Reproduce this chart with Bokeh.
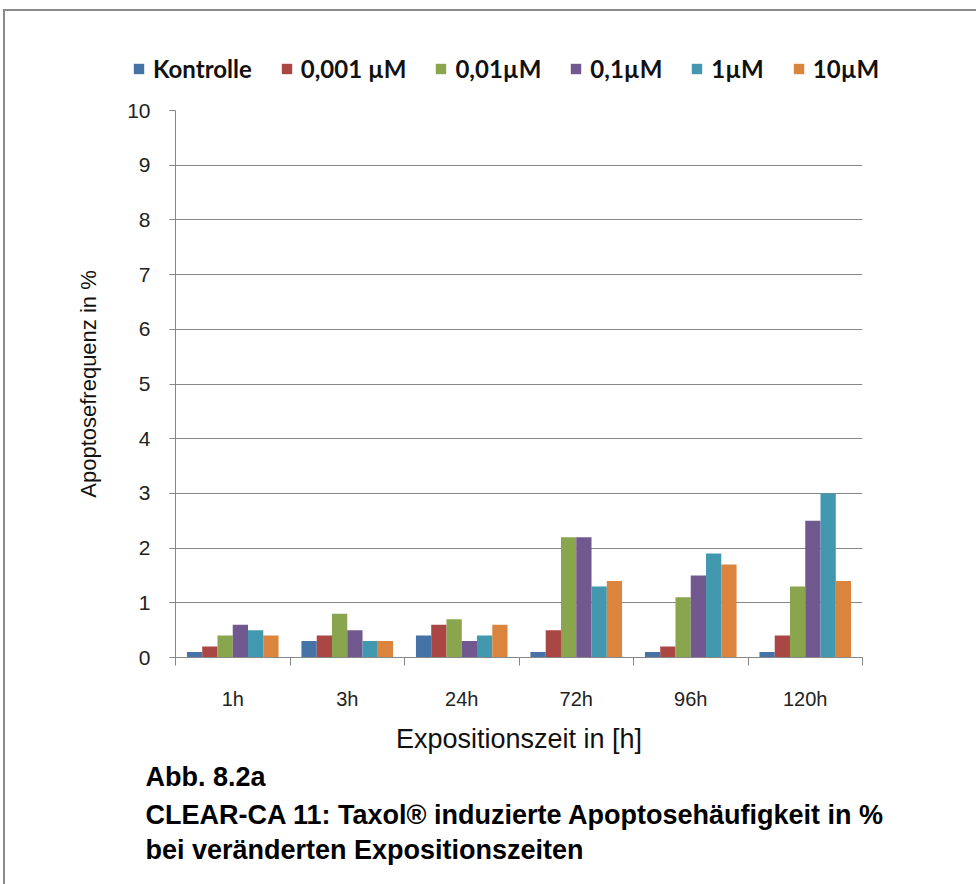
import numpy as np
from bokeh.plotting import figure
from bokeh.layouts import column
from bokeh.models import (ColumnDataSource, FixedTicker, Legend, LegendItem, Title, Range1d)
from bokeh.transform import dodge
from bokeh.embed import file_html
from bokeh.resources import INLINE

categories = ["1h", "3h", "24h", "72h", "96h", "120h"]
series_names = ["Kontrolle", "0,001 µM", "0,01µM", "0,1µM", "1µM", "10µM"]
kontrolle = [0.1, 0.3, 0.4, 0.1, 0.1, 0.1]
c_0001 = [0.2, 0.4, 0.6, 0.5, 0.2, 0.4]
c_001 = [0.4, 0.8, 0.7, 2.2, 1.1, 1.3]
c_01 = [0.6, 0.5, 0.3, 2.2, 1.5, 2.5]
c_1 = [0.5, 0.3, 0.4, 1.3, 1.9, 3.0]
c_10 = [0.4, 0.3, 0.6, 1.4, 1.7, 1.4]
y_ticks = [0, 1, 2, 3, 4, 5, 6, 7, 8, 9, 10]
colors = ["#4572A7", "#AA4643", "#89A54E", "#71588F", "#4198AF", "#DB843D"]
caption_lines = ["Abb. 8.2a",
                 "CLEAR-CA 11: Taxol® induzierte Apoptosehäufigkeit in %",
                 "bei veränderten Expositionszeiten"]

series = [kontrolle, c_0001, c_001, c_01, c_1, c_10]
keys = ["s0", "s1", "s2", "s3", "s4", "s5"]
ncat = len(categories)
ymax = y_ticks[-1]

centers = [i + 0.5 for i in range(ncat)]
data = {"xc": centers}
for k, s in zip(keys, series):
    data[k] = s
src = ColumnDataSource(data)

W, H = 976, 884
LEG_H = 90
gray = "#878787"
frame_css = "linear-gradient(#8a8a8a,#8a8a8a)"

# ---- legend strip (top) ----
pl = figure(width=W, height=LEG_H, x_range=Range1d(0, ncat), y_range=Range1d(50, 60),
            output_backend="svg", toolbar_location=None,
            x_axis_location=None, y_axis_location=None,
            min_border_left=0, min_border_right=0, min_border_top=0, min_border_bottom=0)
pl.frame_align = False
pl.outline_line_color = None
pl.border_fill_alpha = 0
pl.background_fill_alpha = 0
pl.xgrid.grid_line_color = None
pl.ygrid.grid_line_color = None
pl.styles = {"background": f"{frame_css} 3px 9px / 2px 100% no-repeat, "
                           f"{frame_css} 3px 9px / 100% 2px no-repeat, #ffffff"}

# ---- main chart ----
p = figure(width=W, height=H - LEG_H, x_range=Range1d(0, ncat), y_range=Range1d(0, ymax),
           output_backend="svg", toolbar_location=None,
           min_border_left=175, min_border_right=W - 862,
           min_border_top=110 - LEG_H, min_border_bottom=H - 657)
p.frame_align = False
p.outline_line_color = None
p.background_fill_color = "white"
p.border_fill_alpha = 0
p.styles = {"background": f"{frame_css} 3px 0px / 2px 100% no-repeat, #ffffff"}

bw = 0.8 / 6
items = []
for i, (k, name, col) in enumerate(zip(keys, series_names, colors)):
    off = (i - 2.5) * bw
    p.vbar(x=dodge("xc", off, range=p.x_range), top=k, width=bw, bottom=0,
           source=src, fill_color=col, line_color=None)
    # same bars in the legend strip (outside its visible range) to carry the legend swatches
    rl = pl.vbar(x=dodge("xc", off, range=pl.x_range), top=k, width=bw, bottom=0,
                 source=src, fill_color=col, line_color=None)
    items.append(LegendItem(label=name, renderers=[rl]))

legend = Legend(items=items, orientation="horizontal", location=(132, 7),
                border_line_color=None, background_fill_alpha=0,
                label_text_font="Lato", label_text_font_style="bold",
                label_text_font_size="24px", label_text_color="#111111",
                glyph_width=13, glyph_height=13, label_standoff=8, spacing=28,
                padding=0, margin=0)
pl.add_layout(legend)

tick_font = "Liberation Sans"
xa = p.xaxis[0]
xa.ticker = FixedTicker(ticks=centers, minor_ticks=list(range(ncat + 1)))
xa.major_label_overrides = {c: lab for c, lab in zip(centers, categories)}
xa.major_tick_out = 0
xa.major_tick_in = 0
xa.minor_tick_out = 8
xa.minor_tick_in = 0
xa.minor_tick_line_color = gray
xa.axis_line_color = gray
xa.major_label_standoff = 22
xa.major_label_text_font = tick_font
xa.major_label_text_font_size = "20px"
xa.major_label_text_color = "#222222"
xa.axis_label = "Expositionszeit in [h]"
xa.axis_label_text_font = tick_font
xa.axis_label_text_font_style = "normal"
xa.axis_label_text_font_size = "27px"
xa.axis_label_text_color = "#111111"
xa.axis_label_standoff = 11

ya = p.yaxis[0]
ya.ticker = FixedTicker(ticks=y_ticks, minor_ticks=[])
ya.major_tick_out = 6
ya.major_tick_in = 0
ya.major_tick_line_color = gray
ya.axis_line_color = gray
ya.major_label_standoff = 19
ya.major_label_text_font = tick_font
ya.major_label_text_font_size = "21px"
ya.major_label_text_color = "#222222"
ya.axis_label = "Apoptosefrequenz in %"
ya.axis_label_text_font = tick_font
ya.axis_label_text_font_style = "normal"
ya.axis_label_text_font_size = "22px"
ya.axis_label_text_color = "#111111"
ya.axis_label_standoff = 23

p.xgrid.grid_line_color = None
p.ygrid.grid_line_color = gray
p.ygrid.ticker = FixedTicker(ticks=y_ticks)

for line, so in zip(caption_lines, [7, 5, 0]):
    t = Title(text=line, align="left", offset=-30, text_font="Liberation Sans",
              text_font_style="bold", text_font_size="27px", text_color="#000000",
              standoff=so)
    p.add_layout(t, "below")

layout = column(pl, p, spacing=0)
open("out.html", "w").write(file_html(layout, INLINE))
